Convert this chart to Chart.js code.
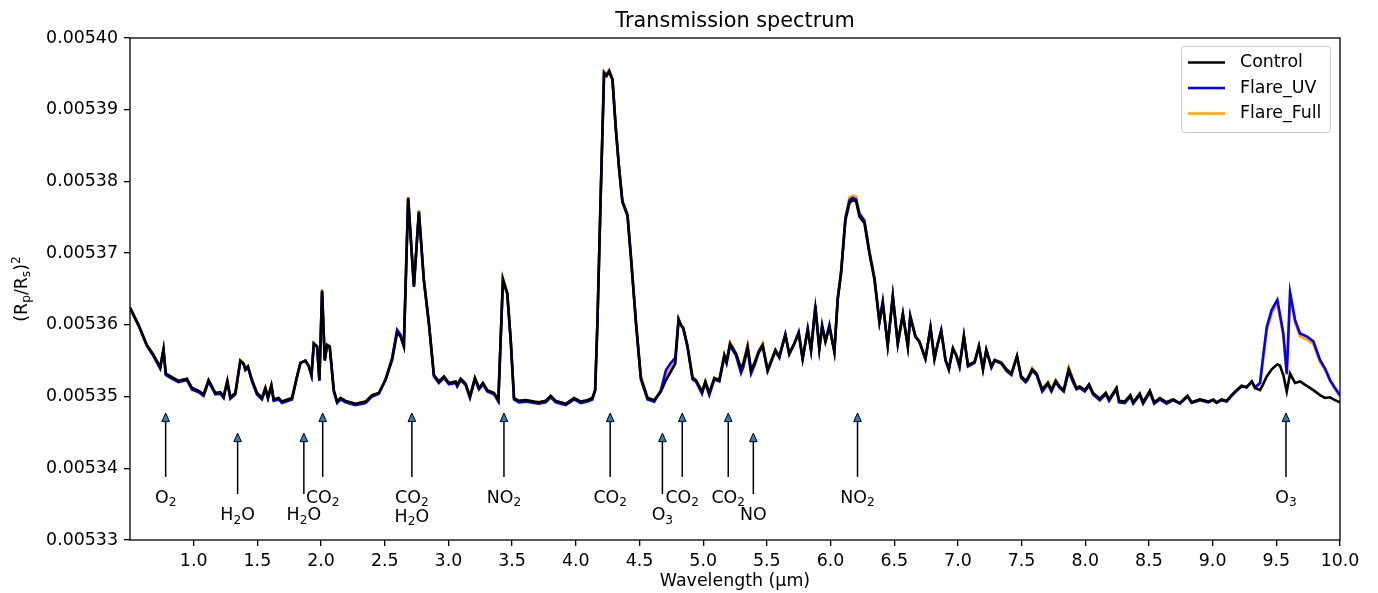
<!DOCTYPE html>
<html>
<head>
<meta charset="utf-8">
<title>Transmission spectrum</title>
<script src="https://cdn.jsdelivr.net/npm/chart.js@4.4.0/dist/chart.umd.min.js"></script>
<style>
  html, body { margin: 0; padding: 0; background: #fff; }
  #spectrum { display: block; }
</style>
</head>
<body>
<canvas id="spectrum" width="1378" height="593"></canvas>
<script>
// wavelength grid (um)
const wavelength = [
  0.500, 0.567, 0.632, 0.685, 0.737, 0.763, 0.781, 0.829, 0.881, 0.947,
  0.986, 1.039, 1.078, 1.117, 1.170, 1.209, 1.235, 1.264, 1.288, 1.327,
  1.366, 1.392, 1.406, 1.426, 1.458, 1.497, 1.536, 1.563, 1.583, 1.610,
  1.628, 1.667, 1.693, 1.772, 1.811, 1.838, 1.877, 1.903, 1.925, 1.943,
  1.969, 1.987, 2.008, 2.029, 2.047, 2.068, 2.100, 2.126, 2.153, 2.192,
  2.270, 2.349, 2.401, 2.454, 2.506, 2.558, 2.597, 2.624, 2.650, 2.684,
  2.729, 2.768, 2.807, 2.847, 2.886, 2.925, 2.965, 3.004, 3.057, 3.069,
  3.096, 3.135, 3.169, 3.208, 3.240, 3.271, 3.305, 3.358, 3.392, 3.428,
  3.462, 3.489, 3.515, 3.554, 3.607, 3.672, 3.711, 3.764, 3.803, 3.843,
  3.921, 3.987, 4.039, 4.091, 4.130, 4.152, 4.170, 4.197, 4.222, 4.241,
  4.262, 4.288, 4.314, 4.340, 4.366, 4.406, 4.432, 4.472, 4.511, 4.563,
  4.616, 4.668, 4.708, 4.747, 4.781, 4.807, 4.826, 4.844, 4.877, 4.917,
  4.943, 4.991, 5.017, 5.048, 5.088, 5.127, 5.166, 5.184, 5.211, 5.258,
  5.297, 5.315, 5.349, 5.376, 5.402, 5.436, 5.467, 5.506, 5.567, 5.598,
  5.645, 5.676, 5.716, 5.750, 5.781, 5.821, 5.847, 5.881, 5.912, 5.934,
  5.960, 5.991, 6.030, 6.057, 6.083, 6.117, 6.149, 6.175, 6.201, 6.227,
  6.266, 6.305, 6.345, 6.384, 6.410, 6.449, 6.489, 6.528, 6.568, 6.607,
  6.626, 6.667, 6.698, 6.745, 6.785, 6.816, 6.843, 6.869, 6.903, 6.929,
  6.961, 6.987, 7.013, 7.047, 7.079, 7.131, 7.165, 7.197, 7.223, 7.263,
  7.289, 7.341, 7.381, 7.420, 7.464, 7.497, 7.532, 7.550, 7.583, 7.618,
  7.662, 7.707, 7.734, 7.768, 7.799, 7.831, 7.870, 7.904, 7.931, 7.956,
  7.996, 8.030, 8.061, 8.114, 8.161, 8.187, 8.245, 8.265, 8.310, 8.354,
  8.376, 8.428, 8.454, 8.507, 8.541, 8.586, 8.638, 8.690, 8.743, 8.803,
  8.835, 8.900, 8.965, 9.005, 9.031, 9.071, 9.110, 9.149, 9.188, 9.228,
  9.267, 9.307, 9.333, 9.372, 9.393, 9.425, 9.464, 9.508, 9.529, 9.555,
  9.582, 9.608, 9.647, 9.686, 9.739, 9.791, 9.843, 9.883, 9.922, 9.961, 10.000
];

const control = [
  0.0053624, 0.0053600, 0.0053572, 0.0053558, 0.0053541, 0.0053566, 0.0053532, 0.0053527, 0.0053522, 0.0053525,
  0.0053512, 0.0053508, 0.0053503, 0.0053523, 0.0053505, 0.0053506, 0.0053500, 0.0053522, 0.0053499, 0.0053505,
  0.0053550, 0.0053546, 0.0053538, 0.0053542, 0.0053523, 0.0053505, 0.0053498, 0.0053512, 0.0053499, 0.0053516,
  0.0053496, 0.0053498, 0.0053493, 0.0053498, 0.0053528, 0.0053547, 0.0053550, 0.0053543, 0.0053530, 0.0053574,
  0.0053570, 0.0053523, 0.0053648, 0.0053551, 0.0053572, 0.0053570, 0.0053509, 0.0053493, 0.0053498, 0.0053494,
  0.0053490, 0.0053493, 0.0053502, 0.0053505, 0.0053523, 0.0053551, 0.0053589, 0.0053584, 0.0053570, 0.0053777,
  0.0053654, 0.0053758, 0.0053663, 0.0053602, 0.0053530, 0.0053521, 0.0053528, 0.0053519, 0.0053521, 0.0053516,
  0.0053525, 0.0053518, 0.0053500, 0.0053526, 0.0053512, 0.0053519, 0.0053509, 0.0053505, 0.0053495, 0.0053663,
  0.0053644, 0.0053579, 0.0053498, 0.0053494, 0.0053495, 0.0053493, 0.0053492, 0.0053494, 0.0053501, 0.0053494,
  0.0053490, 0.0053498, 0.0053493, 0.0053495, 0.0053498, 0.0053509, 0.0053604, 0.0053790, 0.0053951, 0.0053947,
  0.0053953, 0.0053942, 0.0053874, 0.0053818, 0.0053772, 0.0053753, 0.0053697, 0.0053604, 0.0053526, 0.0053498,
  0.0053495, 0.0053507, 0.0053523, 0.0053535, 0.0053546, 0.0053607, 0.0053600, 0.0053595, 0.0053570, 0.0053526,
  0.0053523, 0.0053507, 0.0053521, 0.0053505, 0.0053526, 0.0053523, 0.0053558, 0.0053549, 0.0053574, 0.0053560,
  0.0053539, 0.0053546, 0.0053570, 0.0053537, 0.0053546, 0.0053563, 0.0053572, 0.0053537, 0.0053565, 0.0053556,
  0.0053586, 0.0053560, 0.0053574, 0.0053588, 0.0053553, 0.0053593, 0.0053565, 0.0053623, 0.0053567, 0.0053597,
  0.0053577, 0.0053597, 0.0053563, 0.0053636, 0.0053672, 0.0053746, 0.0053770, 0.0053774, 0.0053772, 0.0053751,
  0.0053742, 0.0053700, 0.0053663, 0.0053604, 0.0053630, 0.0053572, 0.0053639, 0.0053574, 0.0053614, 0.0053570,
  0.0053611, 0.0053584, 0.0053577, 0.0053553, 0.0053595, 0.0053553, 0.0053574, 0.0053591, 0.0053551, 0.0053539,
  0.0053567, 0.0053558, 0.0053543, 0.0053584, 0.0053544, 0.0053548, 0.0053570, 0.0053539, 0.0053565, 0.0053542,
  0.0053551, 0.0053547, 0.0053538, 0.0053532, 0.0053556, 0.0053528, 0.0053522, 0.0053526, 0.0053538, 0.0053532,
  0.0053510, 0.0053519, 0.0053509, 0.0053522, 0.0053514, 0.0053509, 0.0053538, 0.0053523, 0.0053512, 0.0053514,
  0.0053509, 0.0053517, 0.0053505, 0.0053497, 0.0053505, 0.0053496, 0.0053512, 0.0053494, 0.0053493, 0.0053502,
  0.0053492, 0.0053504, 0.0053492, 0.0053508, 0.0053492, 0.0053498, 0.0053492, 0.0053496, 0.0053491, 0.0053501,
  0.0053492, 0.0053496, 0.0053493, 0.0053496, 0.0053492, 0.0053496, 0.0053494, 0.0053502, 0.0053509, 0.0053515,
  0.0053513, 0.0053521, 0.0053512, 0.0053509, 0.0053516, 0.0053528, 0.0053538, 0.0053545, 0.0053543, 0.0053530,
  0.0053507, 0.0053532, 0.0053519, 0.0053521, 0.0053515, 0.0053509, 0.0053502, 0.0053498, 0.0053499, 0.0053495, 0.0053492
];

const flareUV = [
  0.0053623, 0.0053599, 0.0053571, 0.0053556, 0.0053539, 0.0053565, 0.0053530, 0.0053525, 0.0053520, 0.0053523,
  0.0053510, 0.0053506, 0.0053501, 0.0053521, 0.0053503, 0.0053504, 0.0053498, 0.0053520, 0.0053497, 0.0053503,
  0.0053549, 0.0053545, 0.0053537, 0.0053541, 0.0053521, 0.0053503, 0.0053496, 0.0053510, 0.0053497, 0.0053514,
  0.0053494, 0.0053496, 0.0053491, 0.0053496, 0.0053527, 0.0053547, 0.0053550, 0.0053542, 0.0053529, 0.0053573,
  0.0053569, 0.0053522, 0.0053646, 0.0053550, 0.0053571, 0.0053569, 0.0053507, 0.0053491, 0.0053496, 0.0053492,
  0.0053488, 0.0053491, 0.0053500, 0.0053504, 0.0053524, 0.0053554, 0.0053593, 0.0053586, 0.0053571, 0.0053776,
  0.0053653, 0.0053757, 0.0053662, 0.0053601, 0.0053528, 0.0053519, 0.0053526, 0.0053517, 0.0053519, 0.0053514,
  0.0053523, 0.0053516, 0.0053498, 0.0053524, 0.0053510, 0.0053517, 0.0053507, 0.0053503, 0.0053493, 0.0053663,
  0.0053643, 0.0053578, 0.0053496, 0.0053492, 0.0053493, 0.0053491, 0.0053490, 0.0053492, 0.0053499, 0.0053492,
  0.0053488, 0.0053496, 0.0053491, 0.0053493, 0.0053496, 0.0053508, 0.0053604, 0.0053790, 0.0053952, 0.0053948,
  0.0053954, 0.0053942, 0.0053874, 0.0053818, 0.0053771, 0.0053752, 0.0053696, 0.0053603, 0.0053524, 0.0053496,
  0.0053493, 0.0053509, 0.0053537, 0.0053547, 0.0053554, 0.0053608, 0.0053599, 0.0053595, 0.0053569, 0.0053524,
  0.0053521, 0.0053504, 0.0053519, 0.0053502, 0.0053524, 0.0053521, 0.0053555, 0.0053546, 0.0053571, 0.0053557,
  0.0053533, 0.0053541, 0.0053566, 0.0053532, 0.0053543, 0.0053561, 0.0053570, 0.0053535, 0.0053563, 0.0053554,
  0.0053587, 0.0053559, 0.0053574, 0.0053590, 0.0053552, 0.0053595, 0.0053564, 0.0053628, 0.0053566, 0.0053600,
  0.0053577, 0.0053600, 0.0053562, 0.0053638, 0.0053674, 0.0053749, 0.0053774, 0.0053777, 0.0053775, 0.0053755,
  0.0053745, 0.0053702, 0.0053665, 0.0053604, 0.0053633, 0.0053571, 0.0053641, 0.0053573, 0.0053616, 0.0053569,
  0.0053613, 0.0053583, 0.0053576, 0.0053552, 0.0053597, 0.0053552, 0.0053575, 0.0053593, 0.0053550, 0.0053537,
  0.0053567, 0.0053557, 0.0053541, 0.0053585, 0.0053542, 0.0053547, 0.0053570, 0.0053537, 0.0053565, 0.0053540,
  0.0053550, 0.0053546, 0.0053536, 0.0053530, 0.0053556, 0.0053526, 0.0053520, 0.0053524, 0.0053536, 0.0053530,
  0.0053507, 0.0053517, 0.0053507, 0.0053520, 0.0053512, 0.0053507, 0.0053535, 0.0053520, 0.0053510, 0.0053512,
  0.0053507, 0.0053515, 0.0053503, 0.0053495, 0.0053503, 0.0053494, 0.0053510, 0.0053492, 0.0053491, 0.0053500,
  0.0053490, 0.0053502, 0.0053490, 0.0053506, 0.0053490, 0.0053496, 0.0053490, 0.0053495, 0.0053490, 0.0053500,
  0.0053491, 0.0053495, 0.0053492, 0.0053495, 0.0053491, 0.0053495, 0.0053493, 0.0053501, 0.0053508, 0.0053514,
  0.0053513, 0.0053521, 0.0053513, 0.0053519, 0.0053551, 0.0053597, 0.0053621, 0.0053635, 0.0053614, 0.0053588,
  0.0053532, 0.0053645, 0.0053607, 0.0053588, 0.0053584, 0.0053577, 0.0053551, 0.0053539, 0.0053523, 0.0053512, 0.0053502
];

const flareFull = [
  0.0053624, 0.0053600, 0.0053572, 0.0053558, 0.0053541, 0.0053567, 0.0053532, 0.0053527, 0.0053522, 0.0053525,
  0.0053512, 0.0053508, 0.0053503, 0.0053523, 0.0053505, 0.0053506, 0.0053500, 0.0053523, 0.0053499, 0.0053505,
  0.0053551, 0.0053546, 0.0053538, 0.0053542, 0.0053523, 0.0053505, 0.0053498, 0.0053512, 0.0053499, 0.0053516,
  0.0053496, 0.0053498, 0.0053493, 0.0053498, 0.0053528, 0.0053547, 0.0053550, 0.0053543, 0.0053530, 0.0053575,
  0.0053570, 0.0053523, 0.0053650, 0.0053551, 0.0053573, 0.0053570, 0.0053509, 0.0053493, 0.0053498, 0.0053494,
  0.0053490, 0.0053493, 0.0053502, 0.0053505, 0.0053523, 0.0053552, 0.0053590, 0.0053584, 0.0053570, 0.0053779,
  0.0053655, 0.0053760, 0.0053663, 0.0053602, 0.0053530, 0.0053521, 0.0053528, 0.0053519, 0.0053521, 0.0053516,
  0.0053525, 0.0053518, 0.0053500, 0.0053526, 0.0053512, 0.0053519, 0.0053509, 0.0053505, 0.0053495, 0.0053666,
  0.0053646, 0.0053580, 0.0053498, 0.0053494, 0.0053495, 0.0053493, 0.0053492, 0.0053494, 0.0053501, 0.0053494,
  0.0053490, 0.0053498, 0.0053493, 0.0053495, 0.0053498, 0.0053509, 0.0053605, 0.0053791, 0.0053953, 0.0053949,
  0.0053956, 0.0053944, 0.0053876, 0.0053820, 0.0053773, 0.0053755, 0.0053699, 0.0053607, 0.0053529, 0.0053499,
  0.0053495, 0.0053507, 0.0053530, 0.0053540, 0.0053550, 0.0053608, 0.0053600, 0.0053597, 0.0053572, 0.0053526,
  0.0053523, 0.0053507, 0.0053521, 0.0053505, 0.0053526, 0.0053523, 0.0053558, 0.0053549, 0.0053576, 0.0053560,
  0.0053539, 0.0053546, 0.0053572, 0.0053537, 0.0053548, 0.0053563, 0.0053574, 0.0053537, 0.0053565, 0.0053556,
  0.0053586, 0.0053560, 0.0053575, 0.0053588, 0.0053553, 0.0053593, 0.0053565, 0.0053625, 0.0053567, 0.0053597,
  0.0053577, 0.0053598, 0.0053563, 0.0053637, 0.0053674, 0.0053750, 0.0053778, 0.0053780, 0.0053779, 0.0053756,
  0.0053746, 0.0053703, 0.0053666, 0.0053605, 0.0053631, 0.0053572, 0.0053640, 0.0053574, 0.0053615, 0.0053570,
  0.0053612, 0.0053584, 0.0053577, 0.0053553, 0.0053596, 0.0053553, 0.0053574, 0.0053592, 0.0053551, 0.0053539,
  0.0053568, 0.0053558, 0.0053543, 0.0053584, 0.0053544, 0.0053549, 0.0053571, 0.0053539, 0.0053566, 0.0053542,
  0.0053551, 0.0053548, 0.0053538, 0.0053532, 0.0053557, 0.0053528, 0.0053522, 0.0053526, 0.0053540, 0.0053532,
  0.0053510, 0.0053521, 0.0053510, 0.0053523, 0.0053514, 0.0053509, 0.0053541, 0.0053525, 0.0053512, 0.0053514,
  0.0053509, 0.0053517, 0.0053505, 0.0053497, 0.0053505, 0.0053496, 0.0053512, 0.0053494, 0.0053493, 0.0053502,
  0.0053492, 0.0053504, 0.0053492, 0.0053508, 0.0053492, 0.0053498, 0.0053492, 0.0053496, 0.0053491, 0.0053501,
  0.0053492, 0.0053496, 0.0053493, 0.0053496, 0.0053492, 0.0053496, 0.0053494, 0.0053502, 0.0053509, 0.0053515,
  0.0053513, 0.0053521, 0.0053512, 0.0053517, 0.0053547, 0.0053592, 0.0053616, 0.0053630, 0.0053610, 0.0053584,
  0.0053530, 0.0053642, 0.0053603, 0.0053584, 0.0053580, 0.0053573, 0.0053548, 0.0053537, 0.0053521, 0.0053510, 0.0053500
];

const seriesNames = ["Control", "Flare_UV", "Flare_Full"];
const seriesColors = ["#000000", "#0000ff", "#ffa500"];

const xTicks = [1.0, 1.5, 2.0, 2.5, 3.0, 3.5, 4.0, 4.5, 5.0, 5.5, 6.0, 6.5, 7.0, 7.5, 8.0, 8.5, 9.0, 9.5, 10.0];
const yTicks = [0.00533, 0.00534, 0.00535, 0.00536, 0.00537, 0.00538, 0.00539, 0.00540];

// absorber annotations: "_" marks a one-character subscript, "\n" a second line
const featureX = [0.78, 1.345, 1.865, 2.013, 2.713, 3.436, 4.27, 4.68, 4.836, 5.197, 5.394, 6.212, 9.576];
const featureLabel = ["O_2", "H_2O", "H_2O", "CO_2", "CO_2\nH_2O", "NO_2", "CO_2", "O_3", "CO_2", "CO_2", "NO", "NO_2", "O_3"];
const featureRow = [1, 2, 2, 1, 1, 1, 1, 2, 1, 1, 2, 1, 1];

const FONT = "'DejaVu Sans', sans-serif";
const FS = 17.4;

// draws text with _x subscripts and ^x superscripts, centred on cx, baseline at by
function drawFormula(ctx, text, cx, by, size) {
  const runs = [];
  for (let i = 0; i < text.length; i++) {
    const ch = text[i];
    if ((ch === "_" || ch === "^") && i + 1 < text.length) {
      runs.push({ t: text[i + 1], kind: ch });
      i++;
    } else {
      runs.push({ t: ch, kind: "" });
    }
  }
  const small = size * 0.7;
  let total = 0;
  runs.forEach((r) => {
    ctx.font = `${r.kind ? small : size}px ${FONT}`;
    r.w = ctx.measureText(r.t).width;
    total += r.w;
  });
  let x = cx - total / 2;
  ctx.textAlign = "left";
  ctx.textBaseline = "alphabetic";
  runs.forEach((r) => {
    ctx.font = `${r.kind ? small : size}px ${FONT}`;
    let y = by;
    if (r.kind === "_") y = by + size * 0.2;
    if (r.kind === "^") y = by - size * 0.42;
    ctx.fillText(r.t, x, y);
    x += r.w;
  });
}

const decorations = {
  id: "decorations",
  afterDraw(chart) {
    const { ctx, chartArea: area, scales } = chart;
    ctx.save();
    ctx.fillStyle = "#000";

    // frame
    ctx.strokeStyle = "#000";
    ctx.lineWidth = 1.3;
    ctx.strokeRect(area.left, area.top, area.right - area.left, area.bottom - area.top);

    // title and axis labels
    ctx.font = `20.8px ${FONT}`;
    ctx.textAlign = "center";
    ctx.textBaseline = "alphabetic";
    ctx.fillText("Transmission spectrum", (area.left + area.right) / 2, 27);
    ctx.font = `${FS}px ${FONT}`;
    ctx.fillText("Wavelength (\u03bcm)", (area.left + area.right) / 2, 586);

    ctx.save();
    ctx.translate(27, (area.top + area.bottom) / 2);
    ctx.rotate(-Math.PI / 2);
    drawFormula(ctx, "(R_p/R_s)^2", 0, 0, FS);
    ctx.restore();

    // annotations with arrows
    const tipLevel = { 1: 0.0053477, 2: 0.0053449 };
    const tailLevel = { 1: 0.0053388, 2: 0.0053364 };
    const textLevel = { 1: 0.0053361, 2: 0.0053336 };
    featureX.forEach((fx, i) => {
      const row = featureRow[i];
      const px = scales.x.getPixelForValue(fx);
      const tip = scales.y.getPixelForValue(tipLevel[row]);
      const tail = scales.y.getPixelForValue(tailLevel[row]);
      ctx.strokeStyle = "#000";
      ctx.lineWidth = 1.5;
      ctx.beginPath();
      ctx.moveTo(px, tail);
      ctx.lineTo(px, tip + 7);
      ctx.stroke();
      ctx.beginPath();
      ctx.moveTo(px, tip);
      ctx.lineTo(px - 3.8, tip + 8.5);
      ctx.lineTo(px + 3.8, tip + 8.5);
      ctx.closePath();
      ctx.fillStyle = "#2f7fb5";
      ctx.fill();
      ctx.lineWidth = 1;
      ctx.stroke();

      ctx.fillStyle = "#000";
      const lines = featureLabel[i].split("\n");
      const cy = scales.y.getPixelForValue(textLevel[row]);
      lines.forEach((ln, k) => {
        drawFormula(ctx, ln, px, cy + FS * 0.36 + k * 19, FS);
      });
    });

    // legend
    const lx = 1181.5, ly = 46.5, lw = 149, lh = 86;
    ctx.beginPath();
    ctx.roundRect(lx, ly, lw, lh, 3);
    ctx.fillStyle = "rgba(255,255,255,0.8)";
    ctx.fill();
    ctx.strokeStyle = "#cccccc";
    ctx.lineWidth = 1;
    ctx.stroke();
    seriesNames.forEach((name, i) => {
      const ry = 62.5 + i * 25.5;
      ctx.strokeStyle = seriesColors[i];
      ctx.lineWidth = 2.6;
      ctx.beginPath();
      ctx.moveTo(1188, ry);
      ctx.lineTo(1225, ry);
      ctx.stroke();
      ctx.fillStyle = "#000";
      ctx.font = `${FS}px ${FONT}`;
      ctx.textAlign = "left";
      ctx.textBaseline = "middle";
      ctx.fillText(name, 1240, ry);
    });
    ctx.restore();
  }
};

function toPoints(values) {
  return wavelength.map((w, i) => ({ x: w, y: values[i] }));
}

const datasets = [control, flareUV, flareFull].map((values, i) => ({
  label: seriesNames[i],
  data: toPoints(values),
  borderColor: seriesColors[i],
  backgroundColor: seriesColors[i],
  borderWidth: 2.6,
  pointRadius: 0,
  tension: 0,
  fill: false,
}));

const tickFont = { family: FONT, size: FS };

new Chart(document.getElementById("spectrum").getContext("2d"), {
  type: "line",
  data: { datasets },
  options: {
    responsive: false,
    animation: false,
    events: [],
    layout: { padding: { top: 38, right: 38, left: 0, bottom: 0 } },
    plugins: {
      legend: { display: false },
      tooltip: { enabled: false },
      title: { display: false },
    },
    scales: {
      x: {
        type: "linear",
        min: 0.5,
        max: 10,
        afterFit: (scale) => { scale.height = 53; },
        afterBuildTicks: (scale) => { scale.ticks = xTicks.map((v) => ({ value: v })); },
        grid: { drawOnChartArea: false, drawTicks: true, tickLength: 6, color: "#000", lineWidth: 1.3 },
        border: { display: false },
        ticks: { color: "#000", font: tickFont, padding: 5, maxRotation: 0, autoSkip: false, callback: (v) => v.toFixed(1) },
      },
      y: {
        type: "linear",
        min: 0.00533,
        max: 0.0054,
        afterFit: (scale) => { scale.width = 130; },
        afterBuildTicks: (scale) => { scale.ticks = yTicks.map((v) => ({ value: v })); },
        grid: { drawOnChartArea: false, drawTicks: true, tickLength: 6, color: "#000", lineWidth: 1.3 },
        border: { display: false },
        ticks: { color: "#000", font: tickFont, padding: 6, autoSkip: false, callback: (v) => v.toFixed(5) },
      },
    },
  },
  plugins: [decorations],
});
</script>
</body>
</html>
